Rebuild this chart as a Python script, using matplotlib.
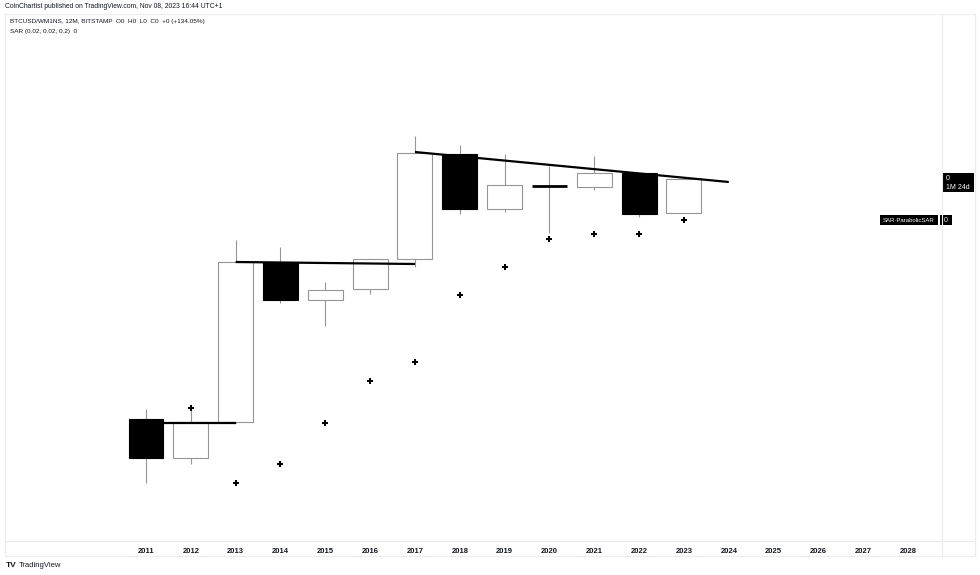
#!/usr/bin/env python
# -*- coding: utf-8 -*-

'''
Yearly BTCUSD/WM1NS candles with parabolic SAR and trend lines
'''

import matplotlib.pyplot as plt
from matplotlib.patches import Rectangle
from matplotlib.lines import Line2D

# values in chart units (no price scale shown on the original)
anos = [2011, 2012, 2013, 2014, 2015, 2016, 2017, 2018, 2019, 2020, 2021, 2022, 2023]
abertura = [122, 83, 119, 279, 241, 252, 282, 387, 332, 355.3, 354, 368, 328]
maxima = [132, 133, 301, 294, 259, 282, 405, 396, 387, 375, 385, 368, 362]
minima = [58, 77, 118, 238, 215, 247, 274, 327, 329, 308, 351, 324, 328]
fechamento = [83, 119, 279, 241, 251, 282, 388, 332, 356, 355, 368, 327, 362]

sar_anos = [2012, 2013, 2014, 2015, 2016, 2017, 2018, 2019, 2020, 2021, 2022, 2023]
sar = [133, 58, 77, 118, 160, 179, 246, 274, 302, 307, 307, 321]

# linhas de tendencia: (ano inicial, valor inicial, ano final, valor final)
linhas = [
    (2011, 118, 2013, 118),
    (2013, 279, 2017, 277),
    (2017, 389, 2024, 359),
]

eixo_anos = list(range(2011, 2029))

W, H = 980, 575
fig = plt.figure(figsize=(W / 100, H / 100), dpi=100)
fig.patch.set_facecolor('white')


def fx(px):
    return px / W


def fy(py):
    return 1 - py / H


ax = fig.add_axes([fx(5), fy(541), fx(942) - fx(5), fy(14) - fy(541)])
for s in ax.spines.values():
    s.set_visible(False)
ax.set_xlim(2007.855, 2028.756)
ax.set_ylim(0, 527)
ax.set_yticks([])
ax.set_xticks(eixo_anos)
ax.set_xticklabels([str(a) for a in eixo_anos], fontsize=5.5,
                   family='Liberation Sans', fontweight='bold', color='#131722')
ax.tick_params(axis='x', length=0, pad=5)

cinza = '#959595'
largura = 0.78
for a, o, h, l, c in zip(anos, abertura, maxima, minima, fechamento):
    ax.vlines(a, l, h, color=cinza, linewidth=0.8, zorder=1)
    base = min(o, c)
    altura = abs(c - o)
    if altura < 1.5:
        # doji
        ax.hlines(c, a - largura / 2, a + largura / 2, color='black',
                  linewidth=2, zorder=2)
        continue
    cor = 'black' if c < o else 'white'
    borda = 'black' if c < o else cinza
    ax.add_patch(Rectangle((a - largura / 2, base), largura, altura,
                           facecolor=cor, edgecolor=borda, linewidth=0.8,
                           zorder=2))

for x0, y0, x1, y1 in linhas:
    ax.plot([x0, x1], [y0, y1], color='black', linewidth=1.6, zorder=3,
            solid_capstyle='butt')

ax.plot(sar_anos, sar, linestyle='none', marker='P', markersize=4,
        color='black', markeredgewidth=0, zorder=4)

# molduras do painel
borda_cor = '#ececec'
for x0, y0, x1, y1 in [(5, 14, 975, 14), (5, 556, 975, 556), (5, 541, 975, 541),
                       (5, 14, 5, 556), (942, 14, 942, 556), (975, 14, 975, 556)]:
    fig.add_artist(Line2D([fx(x0), fx(x1)], [fy(y0), fy(y1)],
                          color=borda_cor, linewidth=0.8))

fonte = 'Liberation Sans'
fig.text(fx(5), fy(6), 'CoinChartist published on TradingView.com, Nov 08, 2023 16:44 UTC+1',
         fontsize=4.9, family=fonte, color='#131722', va='center')
fig.text(fx(10), fy(21.5), 'BTCUSD/WM1NS, 12M, BITSTAMP  O0  H0  L0  C0  +0 (+134.05%)',
         fontsize=4.6, family=fonte, color='#131722', va='center')
fig.text(fx(10), fy(31.5), 'SAR (0.02, 0.02, 0.2)  0',
         fontsize=4.6, family=fonte, color='#131722', va='center')

# etiquetas da escala direita
fig.add_artist(Rectangle((fx(943), fy(192)), fx(31), fy(173) - fy(192),
                         facecolor='black', edgecolor='none'))
fig.text(fx(946), fy(179), '0', fontsize=5, family=fonte, color='white', va='center')
fig.text(fx(946), fy(187), '1M 24d', fontsize=5, family=fonte, color='white', va='center')
fig.add_artist(Rectangle((fx(880), fy(225)), fx(58), fy(215) - fy(225),
                         facecolor='black', edgecolor='none'))
fig.text(fx(909), fy(220), 'SAR·ParabolicSAR', fontsize=4.3, family=fonte,
         color='white', va='center', ha='center')
fig.add_artist(Rectangle((fx(940), fy(225)), fx(12), fy(215) - fy(225),
                         facecolor='black', edgecolor='none'))
fig.text(fx(946), fy(220), '0', fontsize=5, family=fonte, color='white',
         va='center', ha='center')

fig.text(fx(6), fy(565.5), 'TV', fontsize=6, family=fonte, fontweight='bold',
         color='#131722', va='center')
fig.text(fx(19), fy(565.5), 'TradingView', fontsize=5.5, family=fonte,
         color='#131722', va='center')

fig.savefig('out.png', dpi=100)
